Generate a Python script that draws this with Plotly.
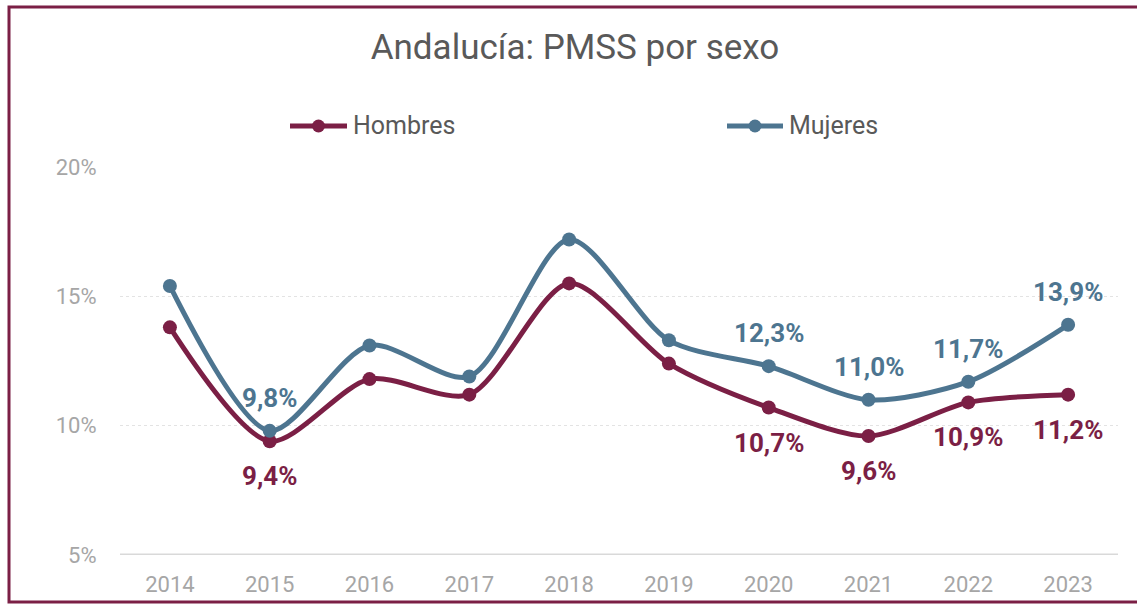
import plotly.graph_objects as go

years = ["2014", "2015", "2016", "2017", "2018", "2019", "2020", "2021", "2022", "2023"]
hombres = [13.8, 9.4, 11.8, 11.2, 15.5, 12.4, 10.7, 9.6, 10.9, 11.2]
mujeres = [15.4, 9.8, 13.1, 11.9, 17.2, 13.3, 12.3, 11.0, 11.7, 13.9]
labeled_years = ["2015", "2020", "2021", "2022", "2023"]
y_ticks = [5, 10, 15, 20]
y_tick_labels = ["5%", "10%", "15%", "20%"]

C_H = "#7B1F45"
C_M = "#4D7590"
C_TXT = "#595959"
C_TICK = "#A6A6A6"
FONT = "Roboto"

# plot-area geometry in pixels (for converting decoration positions)
L, R, T, B = 120, 1118, 167, 555
def px(p):
    return (p - L) / (R - L)
def py(p):
    return (B - p) / (B - T)

fig = go.Figure()
fig.add_trace(go.Scatter(x=years, y=hombres, name="Hombres", mode="lines+markers",
                         line=dict(color=C_H, width=5, shape="spline", smoothing=0.8),
                         marker=dict(size=14, color=C_H), showlegend=False))
fig.add_trace(go.Scatter(x=years, y=mujeres, name="Mujeres", mode="lines+markers",
                         line=dict(color=C_M, width=5, shape="spline", smoothing=0.8),
                         marker=dict(size=14, color=C_M), showlegend=False))

def fmt(v):
    return f"{v:.1f}".replace(".", ",") + "%"

for i, (yr, h, m) in enumerate(zip(years, hombres, mujeres)):
    if yr in labeled_years:
        fig.add_annotation(x=i, y=m, xref="x", yref="y", text="<b>" + fmt(m) + "</b>",
                           showarrow=False, yshift=33,
                           font=dict(family=FONT, size=26, color=C_M))
        fig.add_annotation(x=i, y=h, xref="x", yref="y", text="<b>" + fmt(h) + "</b>",
                           showarrow=False, yshift=-35,
                           font=dict(family=FONT, size=26, color=C_H))

# custom legend
for name, color, x0, x1, xt in [("Hombres", C_H, 290, 347, 351), ("Mujeres", C_M, 727, 783, 787)]:
    fig.add_shape(type="line", xref="paper", yref="paper", x0=px(x0), x1=px(x1),
                  y0=py(126), y1=py(126), line=dict(color=color, width=5))
    cx = (x0 + x1) / 2
    fig.add_shape(type="circle", xref="paper", yref="paper", x0=px(cx - 6.5), x1=px(cx + 6.5),
                  y0=py(126 + 6.5), y1=py(126 - 6.5), line=dict(color=color, width=0),
                  fillcolor=color)
    fig.add_annotation(xref="paper", yref="paper", x=px(xt), y=py(126), xanchor="left",
                       yanchor="middle", text=name, showarrow=False,
                       font=dict(family=FONT, size=25, color=C_TXT))

# frame
fig.add_shape(type="rect", xref="paper", yref="paper",
              x0=px(9), x1=px(1150), y0=py(602), y1=py(7),
              line=dict(color=C_H, width=3), layer="below")

fig.update_layout(
    width=1137, height=604, autosize=False,
    margin=dict(l=L, r=1137 - R, t=T, b=604 - B, pad=0, autoexpand=False),
    paper_bgcolor="white", plot_bgcolor="white",
    font=dict(family=FONT, color=C_TXT),
    title=dict(text="Andalucía: PMSS por sexo", x=575 / 1137, xanchor="center",
               y=1 - 47 / 604, yanchor="middle", font=dict(size=35, color=C_TXT)),
    showlegend=False,
)
fig.update_xaxes(type="category", showgrid=False, showline=False, automargin=False,
                 ticks="outside", ticklen=10, tickcolor="rgba(0,0,0,0)",
                 tickfont=dict(size=22, color=C_TICK), range=[-0.5, 9.5])
fig.update_yaxes(range=[5, 20], tickvals=y_ticks, ticktext=y_tick_labels, automargin=False,
                 tickfont=dict(size=22, color=C_TICK),
                 showgrid=True, gridcolor="#E3E3E3", griddash="dot", gridwidth=1,
                 zeroline=False, showline=False,
                 ticks="outside", ticklen=18, tickcolor="rgba(0,0,0,0)")
fig.add_hline(y=5, line=dict(color="#D9D9D9", width=3), layer="below")

fig.write_html("out.html", config={"responsive": False, "displayModeBar": False},
               post_script="document.body.style.margin='0';")
